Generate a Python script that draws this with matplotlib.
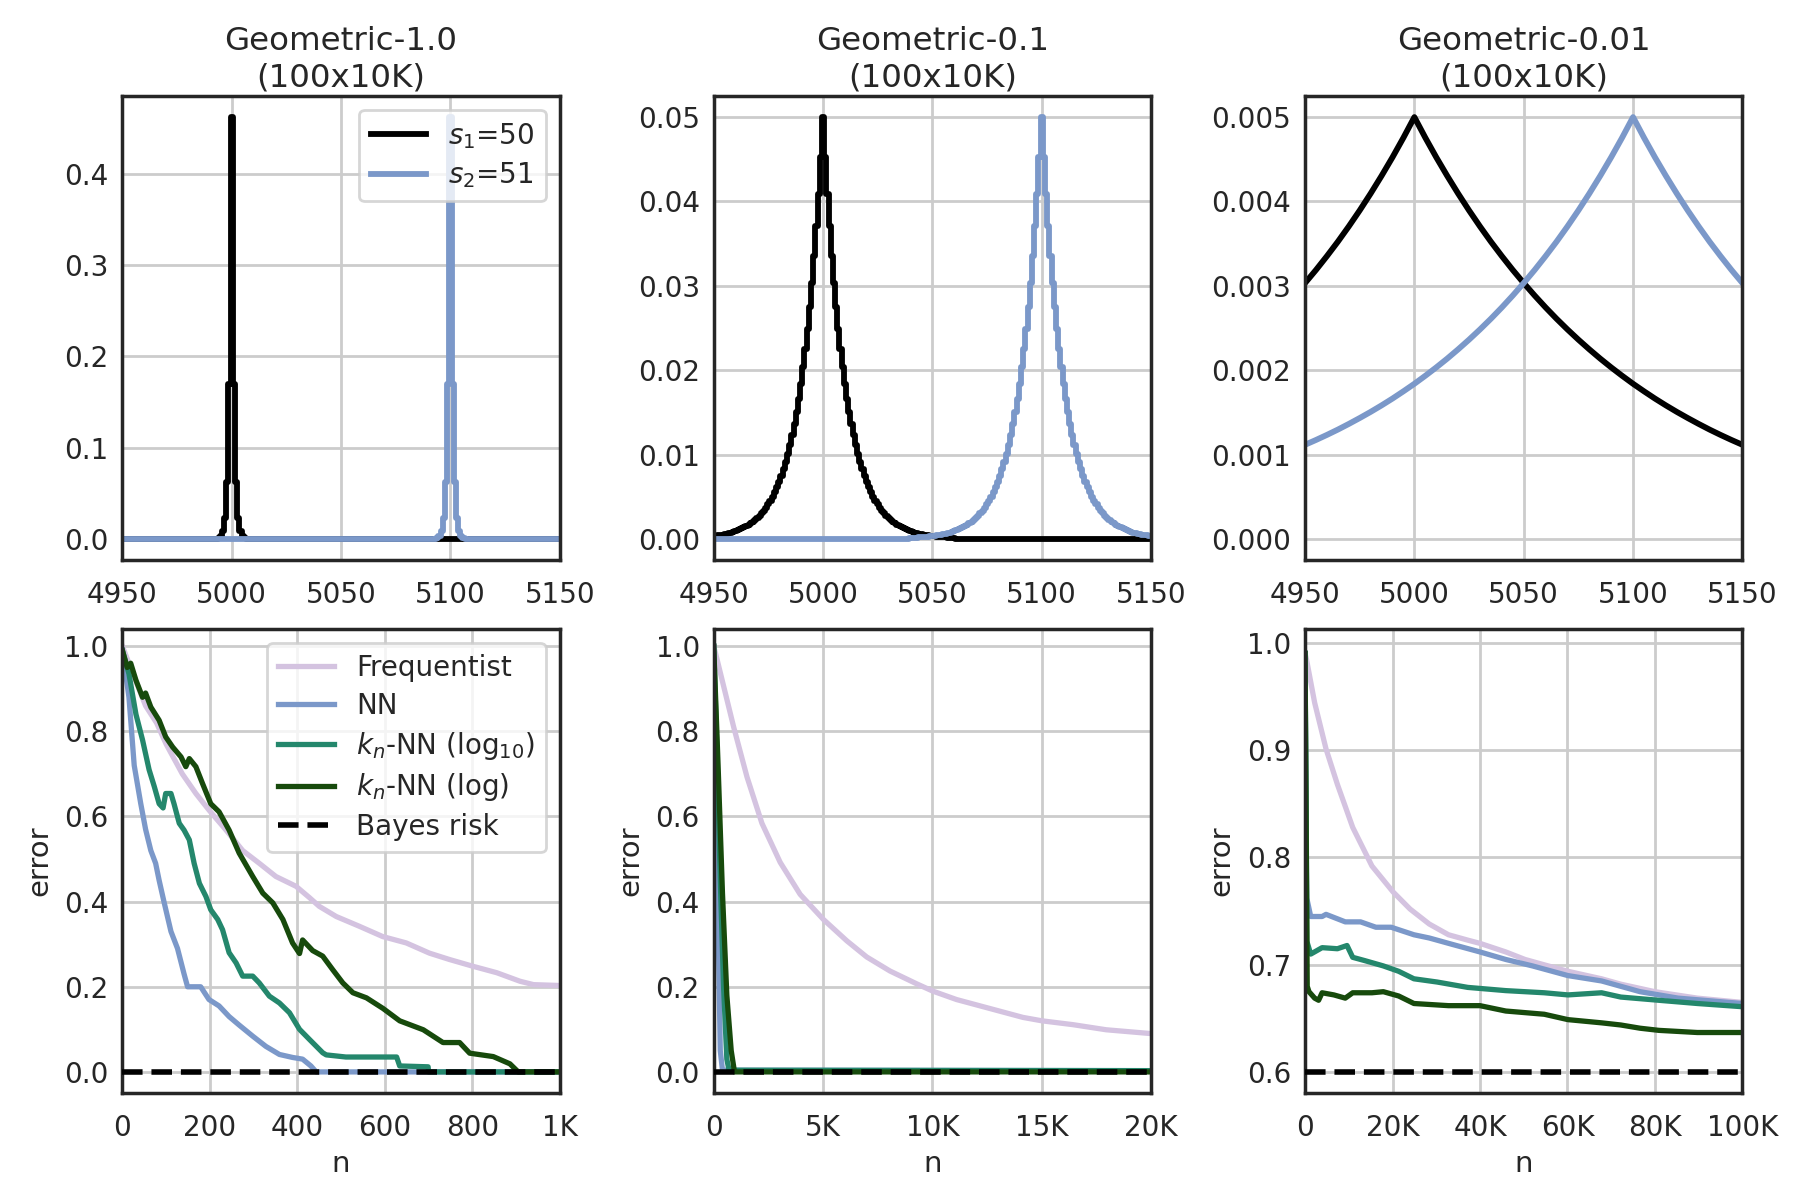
import numpy as np
import matplotlib
matplotlib.use("Agg")
import matplotlib.pyplot as plt
from matplotlib.ticker import FuncFormatter, MultipleLocator

# ---------------- data: top row (pmfs) ----------------
titles = ["Geometric-1.0\n(100x10K)", "Geometric-0.1\n(100x10K)", "Geometric-0.01\n(100x10K)"]
x_lo, x_hi = 4950, 5150
centers = [5000, 5100]
dist_labels = ["$s_1$=50", "$s_2$=51"]
dist_colors = ["#000000", "#7b98c9"]

# one-sided pmf profile, value at |x - centre| = 0, 1, 2, ...
geo10_profile = [0.4621, 0.1700, 0.0625, 0.0230, 0.0085, 0.0031, 0.0011]
geo01_profile = [0.05000, 0.04524, 0.04094, 0.03704, 0.03352, 0.03033, 0.02744, 0.02483,
                 0.02247, 0.02033, 0.01839, 0.01664, 0.01506, 0.01363, 0.01233, 0.01116,
                 0.01009, 0.00913, 0.00826, 0.00748, 0.00677, 0.00612, 0.00554, 0.00501,
                 0.00454, 0.00410, 0.00371, 0.00336, 0.00304, 0.00275, 0.00249, 0.00225,
                 0.00204, 0.00184, 0.00167, 0.00151, 0.00137, 0.00124, 0.00112, 0.00101,
                 0.00092, 0.00083, 0.00075, 0.00068, 0.00061, 0.00056, 0.00050, 0.00045,
                 0.00041, 0.00037, 0.00034, 0.00030, 0.00028, 0.00025, 0.00023, 0.00020,
                 0.00018, 0.00017, 0.00015, 0.00014, 0.00012]
# Geometric-0.01 read every 5 units of |x - centre|
geo001_step = 5
geo001_profile = [0.005000, 0.004756, 0.004524, 0.004304, 0.004094, 0.003894, 0.003704,
                  0.003523, 0.003352, 0.003188, 0.003033, 0.002885, 0.002744, 0.002610,
                  0.002483, 0.002362, 0.002247, 0.002137, 0.002033, 0.001934, 0.001839,
                  0.001750, 0.001664, 0.001583, 0.001506, 0.001433, 0.001363, 0.001296,
                  0.001233, 0.001173, 0.001116]
top_ylims = [(-0.023, 0.485), (-0.0025, 0.0525), (-0.00025, 0.00525)]
top_ystep = [0.1, 0.01, 0.001]

# ---------------- data: bottom row (error curves) ----------------
# Geometric-1.0
freq1_n = [0, 15, 30, 53, 78, 100, 137, 168, 198, 237, 275, 313, 351, 397, 427, 450, 489,
           542, 595, 649, 702, 748, 802, 856, 909, 940, 1000]
freq1_e = [1.0, 0.96, 0.92, 0.86, 0.82, 0.77, 0.70, 0.654, 0.615, 0.568, 0.52, 0.49, 0.459,
           0.436, 0.41, 0.389, 0.365, 0.342, 0.318, 0.303, 0.279, 0.264, 0.248, 0.233,
           0.213, 0.205, 0.203]
nn1_n = [0, 15, 27, 42, 53, 65, 76, 84, 95, 111, 126, 141, 149, 179, 198, 221, 244, 267,
         298, 328, 359, 389, 412, 431, 443, 1000]
nn1_e = [0.99, 0.88, 0.72, 0.63, 0.57, 0.52, 0.49, 0.45, 0.40, 0.33, 0.29, 0.23, 0.20, 0.20,
         0.17, 0.155, 0.13, 0.11, 0.084, 0.06, 0.041, 0.034, 0.03, 0.014, 0.0, 0.0]
teal1_n = [0, 15, 31, 46, 61, 73, 84, 93, 99, 111, 118, 130, 141, 153, 164, 176, 191, 202,
           218, 229, 244, 260, 275, 298, 313, 336, 359, 382, 405, 427, 458, 466, 511, 627,
           634, 699, 700, 1000]
teal1_e = [0.99, 0.935, 0.84, 0.78, 0.71, 0.67, 0.63, 0.62, 0.654, 0.654, 0.63, 0.584,
           0.568, 0.545, 0.49, 0.443, 0.412, 0.381, 0.358, 0.334, 0.28, 0.256, 0.225, 0.225,
           0.209, 0.178, 0.162, 0.139, 0.10, 0.077, 0.045, 0.04, 0.035, 0.035, 0.014, 0.012,
           0.0, 0.0]
dark1_n = [0, 11, 19, 31, 46, 53, 65, 84, 99, 115, 134, 145, 153, 168, 183, 202, 221, 244,
           267, 298, 321, 344, 367, 389, 405, 412, 435, 458, 481, 504, 527, 558, 596, 634,
           688, 733, 771, 794, 848, 886, 905, 1000]
dark1_e = [0.99, 0.95, 0.96, 0.92, 0.88, 0.89, 0.857, 0.826, 0.787, 0.763, 0.74, 0.717,
           0.736, 0.717, 0.678, 0.63, 0.611, 0.568, 0.514, 0.459, 0.42, 0.397, 0.358, 0.303,
           0.278, 0.31, 0.285, 0.272, 0.24, 0.209, 0.186, 0.174, 0.149, 0.12, 0.099, 0.069,
           0.069, 0.044, 0.036, 0.019, 0.0, 0.0]

# Geometric-0.1
freq2_n = [0, 76, 913, 1521, 2205, 3042, 3954, 5019, 6084, 6996, 8061, 9278, 10008, 11103,
           12624, 14144, 15011, 16426, 17947, 20000]
freq2_e = [1.0, 0.985, 0.81, 0.693, 0.584, 0.492, 0.417, 0.358, 0.308, 0.27, 0.237, 0.207,
           0.19, 0.17, 0.149, 0.128, 0.12, 0.111, 0.099, 0.09]
nn2_n = [0, 100, 200, 300, 400, 1000, 20000]
nn2_e = [1.0, 0.7, 0.35, 0.05, 0.004, 0.004, 0.003]
teal2_n = [0, 150, 300, 450, 600, 700, 20000]
teal2_e = [1.0, 0.75, 0.45, 0.2, 0.03, 0.004, 0.003]
dark2_n = [0, 200, 400, 600, 800, 950, 20000]
dark2_e = [1.0, 0.72, 0.42, 0.18, 0.05, 0.0, 0.0]

# Geometric-0.01
freq3_n = [0, 300, 2200, 4800, 7400, 10900, 15300, 20100, 24000, 28400, 32800, 37200, 40000,
           45900, 50300, 54700, 60100, 67800, 72200, 80000, 89700, 100000]
freq3_e = [0.99, 0.985, 0.944, 0.901, 0.868, 0.828, 0.792, 0.768, 0.752, 0.738, 0.728,
           0.723, 0.72, 0.712, 0.705, 0.70, 0.694, 0.687, 0.682, 0.675, 0.669, 0.665]
nn3_n = [0, 400, 1300, 3900, 4800, 9200, 12700, 16200, 19700, 24900, 28400, 33700, 40000,
         45900, 52000, 60100, 67800, 76600, 85300, 100000]
nn3_e = [0.99, 0.762, 0.745, 0.745, 0.747, 0.74, 0.74, 0.735, 0.735, 0.728, 0.725, 0.719,
         0.712, 0.705, 0.699, 0.69, 0.685, 0.675, 0.669, 0.664]
teal3_n = [0, 400, 1300, 3900, 7400, 9600, 10900, 13600, 17900, 21400, 24900, 30200, 37200,
           45900, 54700, 60100, 67800, 72200, 80900, 89700, 100000]
teal3_e = [0.99, 0.722, 0.71, 0.716, 0.715, 0.718, 0.707, 0.704, 0.699, 0.694, 0.687, 0.684,
           0.679, 0.676, 0.674, 0.672, 0.674, 0.67, 0.667, 0.664, 0.661]
dark3_n = [0, 500, 900, 2200, 3100, 3900, 6600, 9200, 10900, 15300, 17900, 21400, 24900,
           32800, 40000, 45900, 54700, 60100, 67800, 72200, 76600, 80900, 89700, 100000]
dark3_e = [0.99, 0.68, 0.675, 0.669, 0.667, 0.674, 0.672, 0.669, 0.674, 0.674, 0.675, 0.671,
           0.664, 0.662, 0.662, 0.657, 0.654, 0.649, 0.646, 0.644, 0.641, 0.639, 0.637, 0.637]

bayes_risk = [0.0, 0.0, 0.6]
n_max = [1000, 20000, 100000]
n_step = [200, 5000, 20000]
bot_ylims = [(-0.05, 1.04), (-0.05, 1.04), (0.5805, 1.0125)]
bot_ystep = [0.2, 0.2, 0.1]

series_labels = ["Frequentist", "NN", "$k_n$-NN (log$_{10}$)", "$k_n$-NN (log)"]
series_colors = ["#d4c3e0", "#7b98c9", "#24876c", "#174a0c"]
panels = [
    [(freq1_n, freq1_e), (nn1_n, nn1_e), (teal1_n, teal1_e), (dark1_n, dark1_e)],
    [(freq2_n, freq2_e), (nn2_n, nn2_e), (teal2_n, teal2_e), (dark2_n, dark2_e)],
    [(freq3_n, freq3_e), (nn3_n, nn3_e), (teal3_n, teal3_e), (dark3_n, dark3_e)],
]

# ---------------- style ----------------
plt.rcParams.update({
    "font.family": ["DejaVu Sans"],
    "text.color": "#262626",
    "axes.labelcolor": "#262626",
    "xtick.color": "#262626",
    "ytick.color": "#262626",
    "axes.edgecolor": "#262626",
    "axes.linewidth": 1.25,
    "grid.color": "#cccccc",
    "grid.linewidth": 1.0,
    "xtick.major.size": 0,
    "ytick.major.size": 0,
    "xtick.major.pad": 7.5,
    "ytick.major.pad": 5,
    "xtick.labelsize": 10,
    "ytick.labelsize": 10,
    "axes.labelsize": 10.5,
    "axes.titlesize": 11.7,
    "legend.fontsize": 10,
    "legend.labelspacing": 0.35,
    "axes.axisbelow": True,
})

fig, axes = plt.subplots(2, 3, figsize=(9, 6), dpi=200)
fig.subplots_adjust(left=0.068, right=0.968, top=0.92, bottom=0.089, wspace=0.352, hspace=0.149)


def k_fmt(v, pos):
    if v >= 1000:
        return f"{v / 1000:g}K"
    return f"{v:g}"


profiles = [geo10_profile, geo01_profile, geo001_profile]
steps = [1, 1, geo001_step]
for j in range(3):
    ax = axes[0, j]
    prof = profiles[j]
    st = steps[j]
    xs = np.arange(x_lo, x_hi + 1, st)
    for c, lab, col in zip(centers, dist_labels, dist_colors):
        idx = np.abs(xs - c) // st
        ys = np.array([prof[i] if i < len(prof) else 0.0 for i in idx])
        if st == 1:
            ax.plot(xs, ys, drawstyle="steps-mid", color=col, lw=2.1, label=lab)
        else:
            ax.plot(xs, ys, color=col, lw=2.1, label=lab)
    ax.set_xlim(x_lo, x_hi)
    ax.set_ylim(*top_ylims[j])
    ax.xaxis.set_major_locator(MultipleLocator(50))
    ax.yaxis.set_major_locator(MultipleLocator(top_ystep[j]))
    ax.grid(True)
    ax.set_title(titles[j], pad=3.5)
    if j == 0:
        ax.legend(loc="upper right", handlelength=2.0)

for j in range(3):
    ax = axes[1, j]
    for (nn, ee), lab, col in zip(panels[j], series_labels, series_colors):
        ax.plot(nn, ee, color=col, lw=1.9, label=lab)
    ax.axhline(bayes_risk[j], color="black", ls="--", lw=2.0, label="Bayes risk", zorder=5)
    ax.set_xlim(0, n_max[j])
    ax.set_ylim(*bot_ylims[j])
    ax.xaxis.set_major_locator(MultipleLocator(n_step[j]))
    ax.xaxis.set_major_formatter(FuncFormatter(k_fmt))
    ax.yaxis.set_major_locator(MultipleLocator(bot_ystep[j]))
    ax.grid(True)
    ax.set_xlabel("n", labelpad=3)
    ax.set_ylabel("error")
    if j == 0:
        ax.legend(loc="upper right", handlelength=2.0)

fig.savefig("out.png", dpi=200)
